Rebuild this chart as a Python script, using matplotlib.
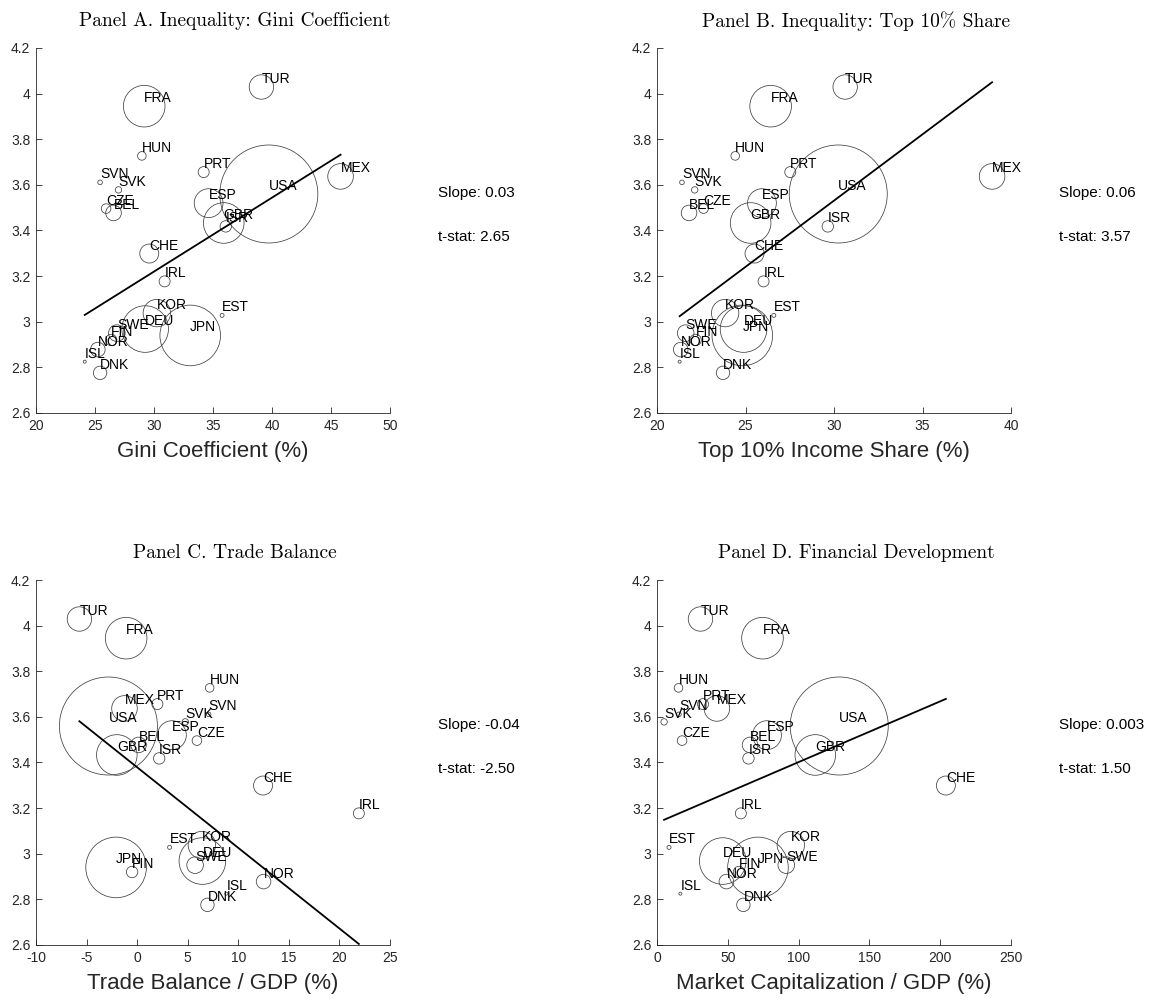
import numpy as np
import matplotlib
matplotlib.use("Agg")
import matplotlib.pyplot as plt
from matplotlib.ticker import FuncFormatter

# country codes, outcome on the vertical axis (same in every panel)
countries = ["TUR", "FRA", "HUN", "PRT", "SVN", "SVK", "MEX", "USA", "ESP", "CZE", "BEL", "GBR",
             "ISR", "CHE", "IRL", "KOR", "EST", "DEU", "SWE", "FIN", "JPN", "NOR", "ISL", "DNK"]
outcome = [4.029, 3.945, 3.727, 3.656, 3.611, 3.578, 3.637, 3.560, 3.520, 3.496, 3.477, 3.433,
           3.418, 3.299, 3.177, 3.038, 3.028, 2.968, 2.950, 2.920, 2.940, 2.878, 2.825, 2.776]
# bubble weight (drawn as circle radius)
weight = [12.2, 20.8, 4.3, 5.5, 2.3, 3.2, 12.8, 49.0, 14.4, 4.8, 7.8, 20.3,
          5.7, 9.5, 5.5, 13.7, 2.0, 23.3, 8.3, 5.7, 30.3, 7.3, 1.5, 6.7]

gini = [39.1, 29.17, 28.97, 34.21, 25.43, 26.99, 45.81, 39.73, 34.63, 25.94, 26.57, 35.91,
        36.08, 29.6, 30.9, 30.24, 35.77, 29.25, 26.85, 26.37, 33.07, 25.24, 24.13, 25.43]
top10 = [30.63, 26.42, 24.42, 27.53, 21.41, 22.13, 38.93, 30.24, 25.93, 22.63, 21.81, 25.29,
         29.65, 25.51, 26.02, 23.85, 26.60, 24.89, 21.62, 22.18, 24.82, 21.34, 21.28, 23.73]
trade = [-5.71, -1.09, 7.17, 2.0, 7.07, 4.76, -1.25, -2.84, 3.44, 5.91, 0.14, -2.01,
         2.18, 12.45, 21.92, 6.4, 3.21, 6.45, 5.73, -0.5, -2.08, 12.5, 8.82, 6.95]
mktcap = [30.7, 74.5, 15.2, 32.5, 15.5, 5.0, 42.3, 128.7, 77.7, 17.7, 65.7, 111.8,
          64.6, 204.0, 59.2, 94.5, 8.5, 46.4, 91.3, 57.9, 71.3, 49.0, 16.5, 61.0]

titles = ["Panel A. Inequality: Gini Coefficient", "Panel B. Inequality: Top 10% Share",
          "Panel C. Trade Balance", "Panel D. Financial Development"]
xlabels = ["Gini Coefficient (%)", "Top 10% Income Share (%)",
           "Trade Balance / GDP (%)", "Market Capitalization / GDP (%)"]
intercepts = [2.248, 1.788, 3.379, 3.1355]
slopes = [0.0324, 0.0581, -0.03533, 0.002663]
slope_txt = ["0.03", "0.06", "-0.04", "0.003"]
tstat_txt = ["2.65", "3.57", "-2.50", "1.50"]
xranges = [(20, 50, 5), (20, 40, 5), (-10, 25, 5), (0, 250, 50)]
xdata = [gini, top10, trade, mktcap]

plt.rcParams['font.family'] = ['Liberation Sans', 'DejaVu Sans']
gray = (0.15, 0.15, 0.15)

fig = plt.figure(figsize=(11.56, 10.01), dpi=100)
W, H = 1156, 1001
boxes = [(36, 48), (657, 48), (36, 580), (657, 580)]  # left, top in pixels
aw, ah = 354, 365

s = [(2 * w * 0.72) ** 2 for w in weight]

for i in range(4):
    l, t = boxes[i]
    ax = fig.add_axes([l / W, (H - t - ah) / H, aw / W, ah / H])
    x = np.array(xdata[i])
    y = np.array(outcome)
    ax.scatter(x, y, s=s, facecolors='none', edgecolors=(0.25, 0.25, 0.25), linewidths=0.55, zorder=2)
    xx = np.array([x.min(), x.max()])
    ax.plot(xx, intercepts[i] + slopes[i] * xx, color='black', lw=1.3, zorder=3)
    for c, xi, yi in zip(countries, x, y):
        ax.text(xi, yi + 0.035, c, fontsize=10, ha='left', va='center', zorder=4)
    x0, x1, st = xranges[i]
    ax.set_xlim(x0, x1)
    ax.set_ylim(2.6, 4.2)
    ax.set_xticks(np.arange(x0, x1 + 0.1, st))
    ax.set_yticks(np.arange(2.6, 4.21, 0.2))
    ax.yaxis.set_major_formatter(FuncFormatter(lambda v, p: "%g" % round(v, 2)))
    ax.xaxis.set_major_formatter(FuncFormatter(lambda v, p: "%g" % v))
    for sp in ['top', 'right']:
        ax.spines[sp].set_visible(False)
    for sp in ['left', 'bottom']:
        ax.spines[sp].set_color(gray)
        ax.spines[sp].set_linewidth(0.6)
    ax.tick_params(direction='in', length=4, width=0.6, colors=gray, labelsize=10, pad=4)
    ax.set_xlabel(xlabels[i], fontsize=16, color=gray, labelpad=6)
    ax.text(0.562, 1.0 + 27 / ah, titles[i], transform=ax.transAxes, fontsize=14,
            family='cmr10', ha='center', va='center')
    ax.text(1.135, 0.603, "Slope: " + slope_txt[i], transform=ax.transAxes, fontsize=11, va='center')
    ax.text(1.135, 0.482, "t-stat: " + tstat_txt[i], transform=ax.transAxes, fontsize=11, va='center')

fig.savefig("out.png", dpi=100)
